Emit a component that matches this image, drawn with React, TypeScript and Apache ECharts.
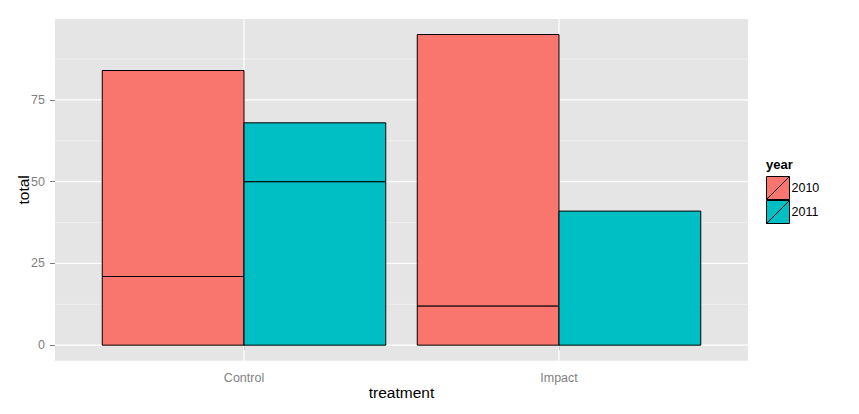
import React, { useEffect, useRef } from "react";
import * as echarts from "echarts";

const categories = ["Control", "Impact"];
const years = ["2010", "2011"];
// stacked segment heights (bottom to top) per category
const segments2010 = [[21, 63], [12, 83]];
const segments2011 = [[50, 18], [41]];
const yMajorBreaks = [0, 25, 50, 75];
const yMinorBreaks = [12.5, 37.5, 62.5, 87.5];
const xBreaks = [1, 2];
const yLimits = [-4.75, 99.75];
const xLimits = [0.4, 2.6];
const colors = ["#F8766D", "#00BFC4"];

function buildRects(segs: number[][]) {
  const out: number[][] = [];
  segs.forEach((list, i) => {
    let base = 0;
    list.forEach((h) => {
      out.push([i + 1, base, base + h]);
      base += h;
    });
  });
  return out;
}

const FONT = "'Liberation Sans', Arial, sans-serif";

export default function App() {
  const ref = useRef<HTMLDivElement>(null);
  useEffect(() => {
    document.body.style.margin = "0";
    const chart = echarts.init(ref.current!, null, { renderer: "svg" });
    const gridData: any[] = [];
    yMajorBreaks.forEach((v) => gridData.push([0, v, 1]));
    yMinorBreaks.forEach((v) => gridData.push([0, v, 0]));
    xBreaks.forEach((v) => gridData.push([1, v, 1]));

    const barSeries = (idx: number, segs: number[][]) => ({
      type: "custom",
      name: years[idx],
      z: 3,
      silent: true,
      itemStyle: { color: colors[idx], borderColor: "#000", borderWidth: 1 },
      encode: { x: 0, y: [1, 2] },
      data: buildRects(segs),
      renderItem: (params: any, api: any) => {
        const c = api.value(0);
        const low = api.value(1);
        const high = api.value(2);
        const x0 = idx === 0 ? c - 0.45 : c;
        const x1 = idx === 0 ? c : c + 0.45;
        const p0 = api.coord([x0, high]);
        const p1 = api.coord([x1, low]);
        return {
          type: "rect",
          shape: { x: p0[0], y: p0[1], width: p1[0] - p0[0], height: p1[1] - p0[1] },
          style: { fill: colors[idx], stroke: "#000", lineWidth: 1 },
        };
      },
    });

    chart.setOption({
      animation: false,
      title: {
        text: "year",
        left: 766,
        top: 158,
        padding: 0,
        textStyle: { fontSize: 13, fontWeight: "bold", fontFamily: FONT, color: "#000" },
      },
      legend: {
        data: years,
        orient: "vertical",
        left: 766,
        top: 176,
        padding: 0,
        itemGap: 0,
        itemWidth: 23,
        itemHeight: 23,
        selectedMode: false,
        icon: "path://M0,0L10,0L10,10L0,10Z M0,10L10,0",
        itemStyle: { borderColor: "#000", borderWidth: 1 },
        textStyle: { fontSize: 12.5, fontFamily: FONT, color: "#000", padding: [0, 0, 0, -3] },
      },
      grid: {
        left: 55,
        right: 111,
        top: 19,
        bottom: 53.3,
        show: true,
        backgroundColor: "#E5E5E5",
        borderWidth: 0,
        containLabel: false,
        outerBoundsMode: "none",
      },
      xAxis: {
        type: "value",
        min: xLimits[0],
        max: xLimits[1],
        name: "treatment",
        nameLocation: "middle",
        nameGap: 24,
        nameMoveOverlap: false,
        nameTextStyle: { fontSize: 15.5, fontFamily: FONT, color: "#000" },
        axisLine: { show: false },
        splitLine: { show: false },
        axisTick: { show: true, customValues: xBreaks, length: 5, lineStyle: { color: "#7F7F7F" } },
        axisLabel: {
          customValues: xBreaks,
          formatter: (v: number) => categories[Math.round(v) - 1] ?? "",
          fontSize: 12.5,
          fontFamily: FONT,
          color: "#7F7F7F",
          margin: 11,
        },
      },
      yAxis: {
        type: "value",
        min: yLimits[0],
        max: yLimits[1],
        name: "total",
        nameLocation: "middle",
        nameGap: 24,
        nameMoveOverlap: false,
        nameRotate: 90,
        nameTextStyle: { fontSize: 15.5, fontFamily: FONT, color: "#000" },
        axisLine: { show: false },
        splitLine: { show: false },
        axisTick: { show: true, customValues: yMajorBreaks, length: 5, lineStyle: { color: "#7F7F7F" } },
        axisLabel: {
          customValues: yMajorBreaks,
          formatter: (v: number) => String(v),
          fontSize: 12.5,
          fontFamily: FONT,
          color: "#7F7F7F",
          margin: 10,
        },
      },
      series: [
        {
          type: "custom",
          name: "gridlines",
          z: 1,
          silent: true,
          encode: { x: 1, y: 1 },
          data: gridData,
          renderItem: (params: any, api: any) => {
            const cs = params.coordSys;
            const orient = api.value(0);
            const v = api.value(1);
            const major = api.value(2) === 1;
            const style = { stroke: major ? "#FFFFFF" : "#F2F2F2", lineWidth: major ? 1.2 : 0.8 };
            if (orient === 0) {
              const y = api.coord([1, v])[1];
              return { type: "line", shape: { x1: cs.x, y1: y, x2: cs.x + cs.width, y2: y }, style };
            }
            const x = api.coord([v, 0])[0];
            return { type: "line", shape: { x1: x, y1: cs.y, x2: x, y2: cs.y + cs.height }, style };
          },
        },
        barSeries(0, segments2010),
        barSeries(1, segments2011),
      ],
    });
    return () => chart.dispose();
  }, []);
  return <div ref={ref} style={{ width: 859, height: 414 }} />;
}
